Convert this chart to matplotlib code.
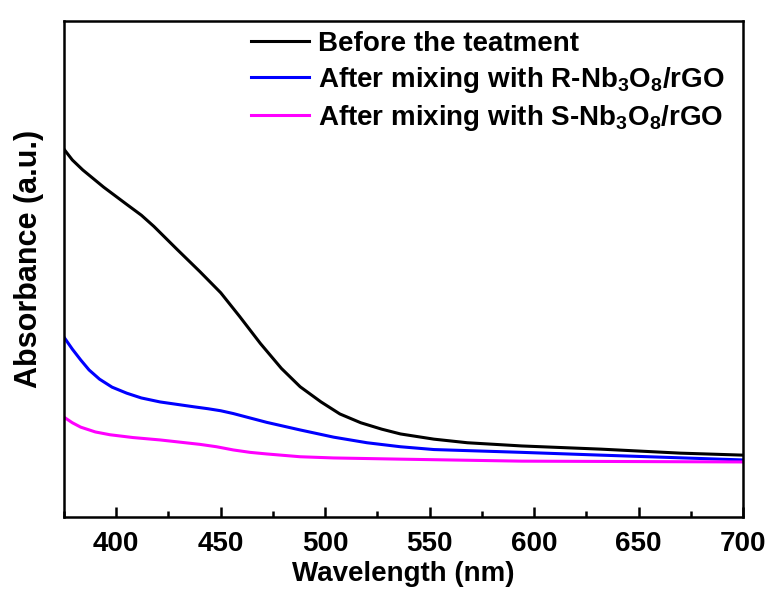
import matplotlib
matplotlib.use('Agg')
import matplotlib.pyplot as plt
from matplotlib.ticker import MultipleLocator

plt.rcParams['font.family'] = 'Liberation Sans'
plt.rcParams['font.weight'] = 'bold'
plt.rcParams['mathtext.fontset'] = 'custom'
plt.rcParams['mathtext.rm'] = 'Liberation Sans:bold'
plt.rcParams['mathtext.bf'] = 'Liberation Sans:bold'
plt.rcParams['mathtext.default'] = 'bf'

# wavelength (nm) / absorbance
wl_before = [375, 379, 384, 394, 405, 412, 418, 429, 440, 450, 459, 469, 479, 488, 498,
             507, 517, 527, 536, 552, 568, 594, 632, 670, 700]
abs_before = [0.920, 0.893, 0.868, 0.825, 0.782, 0.755, 0.727, 0.670, 0.614, 0.561, 0.502,
              0.434, 0.372, 0.326, 0.288, 0.258, 0.236, 0.220, 0.208, 0.195, 0.186,
              0.178, 0.170, 0.160, 0.155]

wl_r = [375, 379, 383, 387, 392, 398, 405, 412, 421, 437, 444, 450, 456, 464, 472, 488,
        504, 520, 536, 552, 594, 632, 700]
abs_r = [0.450, 0.420, 0.393, 0.368, 0.345, 0.325, 0.310, 0.298, 0.288, 0.276, 0.271,
         0.266, 0.259, 0.248, 0.237, 0.218, 0.200, 0.186, 0.176, 0.169, 0.162, 0.155, 0.143]

wl_s = [375, 379, 383, 390, 397, 408, 421, 440, 448, 456, 464, 472, 488, 504, 536, 594, 700]
abs_s = [0.250, 0.236, 0.225, 0.213, 0.206, 0.199, 0.193, 0.182, 0.176, 0.168, 0.162,
         0.158, 0.151, 0.148, 0.145, 0.140, 0.138]

labels = ['Before the teatment',
          r'After mixing with R-Nb$_3$O$_8$/rGO',
          r'After mixing with S-Nb$_3$O$_8$/rGO']

fig = plt.figure(figsize=(7.71, 5.89), dpi=100)
ax = fig.add_axes([0.083, 0.122, 0.881, 0.842])

ax.plot(wl_before, abs_before, color='black', lw=2.2, label=labels[0])
ax.plot(wl_r, abs_r, color='#0000ff', lw=2.2, label=labels[1])
ax.plot(wl_s, abs_s, color='#ff00ff', lw=2.2, label=labels[2])

ax.set_xlim(375, 700)
ax.set_ylim(0, 1.24)
ax.xaxis.set_major_locator(MultipleLocator(50))
ax.xaxis.set_minor_locator(MultipleLocator(25))
ax.tick_params(axis='x', which='major', direction='in', length=7, width=1.8, labelsize=20, pad=10)
ax.tick_params(axis='x', which='minor', direction='in', length=4, width=1.8)
ax.set_yticks([])
for s in ax.spines.values():
    s.set_linewidth(1.8)

ax.set_xlabel('Wavelength (nm)', fontsize=20, fontweight='bold')
ax.xaxis.set_label_coords(0.5, -0.088)
ax.set_ylabel('Absorbance (a.u.)', fontsize=22, fontweight='bold')
ax.yaxis.set_label_coords(-0.03, 0.52)

ax.legend(loc='upper right', frameon=False, fontsize=20, handlelength=2.1,
          handletextpad=0.3, labelspacing=0.3, borderaxespad=0.15,
          bbox_to_anchor=(0.995, 1.012))

fig.savefig('out.png', dpi=100)
